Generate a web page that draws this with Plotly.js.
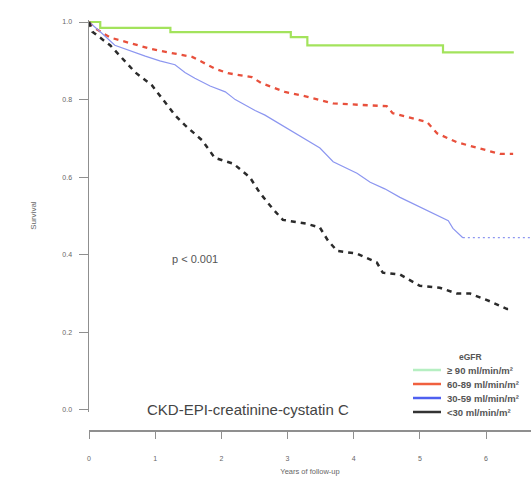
<!DOCTYPE html>
<html>
<head>
<meta charset="utf-8">
<script src="https://cdn.plot.ly/plotly-3.0.1.min.js"></script>
<style>
  html, body { margin: 0; padding: 0; background: #fff; }
  #chart { width: 531px; height: 491px; }
</style>
</head>
<body>
<div id="chart"></div>
<script>
// Kaplan-Meier estimates (years, survival)
const gfr90X = [0, 0.17, 1.23, 3.05, 3.30, 5.35, 6.42];
const gfr90Y = [1.0, 0.985, 0.974, 0.961, 0.94, 0.922, 0.922];

const gfr60X = [0, 0.09, 0.32, 0.54, 0.74, 0.95, 1.19, 1.56, 1.71, 1.90, 2.10, 2.46, 2.61, 2.81, 2.96, 3.23, 3.69, 4.50, 4.59, 5.11, 5.26, 5.56, 5.86, 6.21, 6.41];
const gfr60Y = [1.0, 0.984, 0.96, 0.95, 0.94, 0.93, 0.922, 0.91, 0.897, 0.88, 0.868, 0.858, 0.842, 0.83, 0.82, 0.81, 0.79, 0.783, 0.765, 0.742, 0.713, 0.69, 0.677, 0.66, 0.66];

const gfr30X = [0, 0.17, 0.39, 0.62, 0.85, 1.07, 1.30, 1.45, 1.60, 1.83, 2.06, 2.21, 2.36, 2.51, 2.66, 2.81, 2.96, 3.11, 3.26, 3.49, 3.69, 3.87, 4.05, 4.25, 4.47, 4.70, 4.96, 5.20, 5.43, 5.50, 5.65];
const gfr30Y = [1.0, 0.975, 0.94, 0.925, 0.912, 0.9, 0.89, 0.87, 0.855, 0.835, 0.82, 0.80, 0.785, 0.772, 0.76, 0.745, 0.73, 0.715, 0.70, 0.675, 0.64, 0.625, 0.61, 0.587, 0.57, 0.548, 0.527, 0.506, 0.488, 0.468, 0.444];
const gfr30TailX = [5.65, 6.67];
const gfr30TailY = [0.444, 0.444];

const gfrLowX = [0, 0.05, 0.32, 0.50, 0.70, 0.95, 1.12, 1.30, 1.45, 1.71, 1.90, 2.18, 2.43, 2.58, 2.77, 2.93, 3.29, 3.49, 3.61, 3.75, 4.05, 4.35, 4.44, 4.70, 5.00, 5.30, 5.56, 5.76, 6.06, 6.32, 6.39];
const gfrLowY = [1.0, 0.975, 0.94, 0.907, 0.87, 0.837, 0.80, 0.76, 0.734, 0.695, 0.65, 0.635, 0.60, 0.56, 0.52, 0.49, 0.48, 0.47, 0.437, 0.41, 0.403, 0.38, 0.354, 0.349, 0.32, 0.315, 0.30, 0.30, 0.28, 0.26, 0.26];

const groupLabels = ['\u2265 90 ml/min/m\u00b2', '60-89 ml/min/m\u00b2', '30-59 ml/min/m\u00b2', '<30 ml/min/m\u00b2'];
const curveColors = ['#a3e35c', '#e8503c', '#8c96f0', '#2b2b2b'];
const keyColors = ['#b6efc2', '#f0603f', '#4f60f0', '#333333'];
const xTicks = [0, 1, 2, 3, 4, 5, 6];
const yTicks = [0, 0.2, 0.4, 0.6, 0.8, 1.0];

// page geometry (px) -> paper coords
const W = 531, H = 491;
const M = { l: 89, r: 0, t: 18, b: 61 };
const pw = W - M.l - M.r, ph = H - M.t - M.b;
const px = x => (x - M.l) / pw;
const py = y => (H - M.b - y) / ph;

const traces = [
    { x: gfr90X, y: gfr90Y, mode: 'lines', line: { shape: 'hv', color: curveColors[0], width: 2.2 } },
    { x: gfr60X, y: gfr60Y, mode: 'lines', line: { color: curveColors[1], width: 2.3, dash: '5px,5px' } },
    { x: gfr30X, y: gfr30Y, mode: 'lines', line: { color: curveColors[2], width: 1.2 } },
    { x: gfr30TailX, y: gfr30TailY, mode: 'lines', line: { color: curveColors[2], width: 1.2, dash: '2px,3px' } },
    { x: gfrLowX, y: gfrLowY, mode: 'lines', line: { color: curveColors[3], width: 2.5, dash: '5px,5px' } }
];

// hand-built key, like the base R legend()
const shapes = [];
const annotations = [
    { text: 'p < 0.001', x: 1.6, y: 0.39, xref: 'x', yref: 'y', showarrow: false,
      font: { family: 'Liberation Sans, Arial', size: 11, color: '#555' } },
    { text: 'CKD-EPI-creatinine-cystatin C', x: 2.4, y: 0.0, xref: 'x', yref: 'y', showarrow: false,
      font: { family: 'Liberation Sans, Arial', size: 15, color: '#444' } },
    { text: '<b>eGFR</b>', x: px(484), y: py(357), xref: 'paper', yref: 'paper', yanchor: 'middle', showarrow: false,
      font: { family: 'Liberation Sans, Arial', size: 8.5, color: '#555' } }
];
groupLabels.forEach((lab, i) => {
    const yy = py(370 + i * 14);
    shapes.push({ type: 'line', xref: 'paper', yref: 'paper', x0: px(413), x1: px(441), y0: yy, y1: yy,
                  line: { color: keyColors[i], width: 2.5 } });
    annotations.push({ text: '<b>' + lab + '</b>', x: px(445), y: yy, xref: 'paper', yref: 'paper',
                       xanchor: 'left', yanchor: 'middle', showarrow: false,
                       font: { family: 'Liberation Sans, Arial', size: 9.5, color: '#555' } });
});

const layout = {
    width: W, height: H,
    margin: M,
    paper_bgcolor: '#fff', plot_bgcolor: '#fff',
    showlegend: false,
    font: { family: 'Liberation Sans, Arial', color: '#666' },
    xaxis: {
        range: [0, 6.68], anchor: 'free', position: 0,
        showgrid: false, zeroline: false,
        showline: true, linecolor: '#8f8f8f', linewidth: 1.5,
        ticks: 'outside', ticklen: 7, tickcolor: '#8f8f8f', tickwidth: 1,
        tickvals: xTicks, ticklabelstandoff: 14,
        tickfont: { size: 7, color: '#666' },
        title: { text: 'Years of follow-up', font: { size: 7.5, color: '#666' }, standoff: 8 }
    },
    yaxis: {
        range: [-0.004, 1.006], domain: [0.0449, 0.9959],
        showgrid: false, zeroline: false,
        showline: true, linecolor: '#8f8f8f', linewidth: 1.5,
        ticks: 'outside', ticklen: 9, tickcolor: '#8f8f8f', tickwidth: 1,
        tickvals: yTicks, ticktext: yTicks.map(v => v.toFixed(1)), ticklabelstandoff: 5,
        tickfont: { size: 7, color: '#666' },
        title: { text: 'Survival', font: { size: 8, color: '#666' }, standoff: 24 }
    },
    shapes: shapes,
    annotations: annotations
};

Plotly.newPlot('chart', traces, layout, { displayModeBar: false, staticPlot: true });
</script>
</body>
</html>
